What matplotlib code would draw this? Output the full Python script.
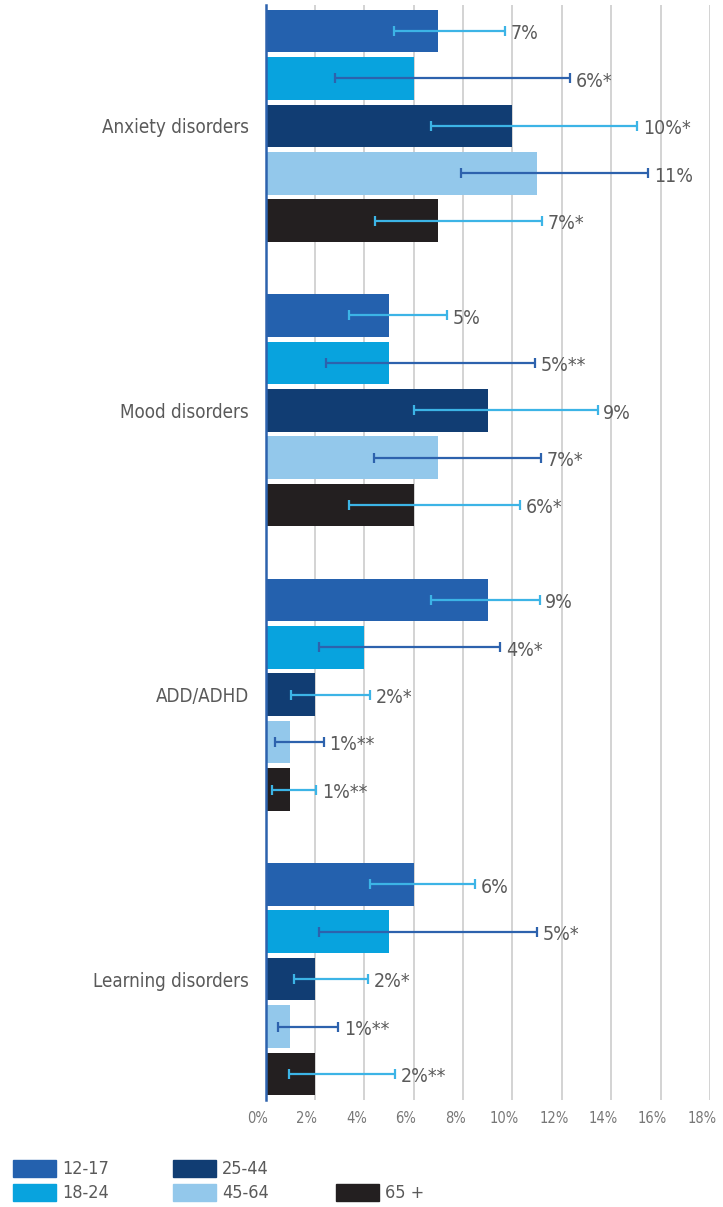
import matplotlib
matplotlib.use("Agg")
import matplotlib.pyplot as plt
import matplotlib.transforms as mtransforms
from matplotlib.patches import Rectangle
import numpy as np

plt.rcParams['font.family'] = ['DejaVu Sans']
plt.rcParams['font.stretch'] = 'condensed'

categories = ["Anxiety disorders", "Mood disorders", "ADD/ADHD", "Learning disorders"]
age_groups = ["12-17", "18-24", "25-44", "45-64", "65 +"]

# prevalence (%) per age group, one value per category
prev_12_17 = [7, 5, 9, 6]
prev_18_24 = [6, 5, 4, 5]
prev_25_44 = [10, 9, 2, 2]
prev_45_64 = [11, 7, 1, 1]
prev_65_up = [7, 6, 1, 2]

# confidence interval bounds (%)
low_12_17 = [5.2, 3.4, 6.7, 4.25]
high_12_17 = [9.7, 7.35, 11.1, 8.5]
low_18_24 = [2.8, 2.45, 2.15, 2.15]
high_18_24 = [12.35, 10.9, 9.5, 11.0]
low_25_44 = [6.7, 6.0, 1.05, 1.15]
high_25_44 = [15.05, 13.45, 4.25, 4.15]
low_45_64 = [7.9, 4.4, 0.4, 0.5]
high_45_64 = [15.5, 11.15, 2.35, 2.95]
low_65_up = [4.45, 3.4, 0.25, 0.95]
high_65_up = [11.2, 10.3, 2.05, 5.25]

# reliability flags appended to the value labels
flag_12_17 = ["", "", "", ""]
flag_18_24 = ["*", "**", "*", "*"]
flag_25_44 = ["*", "", "*", "*"]
flag_45_64 = ["", "*", "**", "**"]
flag_65_up = ["*", "*", "**", "**"]

x_ticks = [0, 2, 4, 6, 8, 10, 12, 14, 16, 18]

values = [prev_12_17, prev_18_24, prev_25_44, prev_45_64, prev_65_up]
lows = [low_12_17, low_18_24, low_25_44, low_45_64, low_65_up]
highs = [high_12_17, high_18_24, high_25_44, high_45_64, high_65_up]
flags = [flag_12_17, flag_18_24, flag_25_44, flag_45_64, flag_65_up]

bar_colors = ["#2461ae", "#08a3de", "#113d73", "#93c8eb", "#231f20"]
err_colors = ["#3cb4e6", "#2d62ad", "#3cb4e6", "#2d62ad", "#3cb4e6"]
text_color = "#5a5a5a"

W, H = 723, 1207
fig = plt.figure(figsize=(W / 100, H / 100), dpi=100)
ax = fig.add_axes([265.5 / W, 1 - 1100 / H, (710 - 265.5) / W, (1100 - 5) / H])

n_groups = len(age_groups)
slot = n_groups + 1
for gi in range(n_groups):
    ys = np.arange(len(categories)) * slot + gi
    v = np.array(values[gi], dtype=float)
    ax.barh(ys, v, height=0.9, color=bar_colors[gi], zorder=2)
    lo = np.array(lows[gi])
    hi = np.array(highs[gi])
    ax.errorbar((lo + hi) / 2, ys, xerr=(hi - lo) / 2, fmt="none",
                ecolor=err_colors[gi], elinewidth=1.6, capsize=3.5,
                capthick=1.6, zorder=3)
    for y, val, h, f in zip(ys, v, hi, flags[gi]):
        ax.annotate(f"{val:.0f}%{f}", xy=(h, y), xytext=(4, -2),
                    textcoords="offset points", ha="left", va="center",
                    fontsize=14, color=text_color, zorder=4)

ax.set_xlim(0, 18)
ax.set_ylim(len(categories) * slot - 1 - 0.45, -0.55)
ax.set_xticks(x_ticks)
ax.set_xticklabels([f"{t}%" for t in x_ticks])
ax.set_yticks(np.arange(len(categories)) * slot + (n_groups - 1) / 2)
ax.set_yticklabels(categories)

ax.grid(axis="x", color="#d3d3d3", linewidth=1.4, zorder=0)
ax.set_axisbelow(True)
for s in ["top", "right", "bottom"]:
    ax.spines[s].set_visible(False)
ax.spines["left"].set_color("#2d62ad")
ax.spines["left"].set_linewidth(1.8)
ax.spines["left"].set_zorder(5)

ax.tick_params(axis="x", length=0, pad=8, labelsize=10.5, labelcolor="#777777")
ax.tick_params(axis="y", length=0, pad=12, labelsize=13.5, labelcolor=text_color)
shift = mtransforms.ScaledTranslation(-8 / 100, 0, fig.dpi_scale_trans)
for lab in ax.get_xticklabels():
    lab.set_transform(lab.get_transform() + shift)

# legend laid out in three columns, the last holding only the oldest group
legend_pos = [(13, 1160), (13, 1184), (173, 1160), (173, 1184), (336, 1184)]
for (px, py), col, name in zip(legend_pos, bar_colors, age_groups):
    fig.patches.append(Rectangle((px / W, 1 - (py + 17) / H), 43 / W, 17 / H,
                                 transform=fig.transFigure, color=col))
    fig.text((px + 49) / W, 1 - (py + 9) / H, name, ha="left", va="center",
             fontsize=13, color=text_color)

fig.savefig("out.png", dpi=100)
